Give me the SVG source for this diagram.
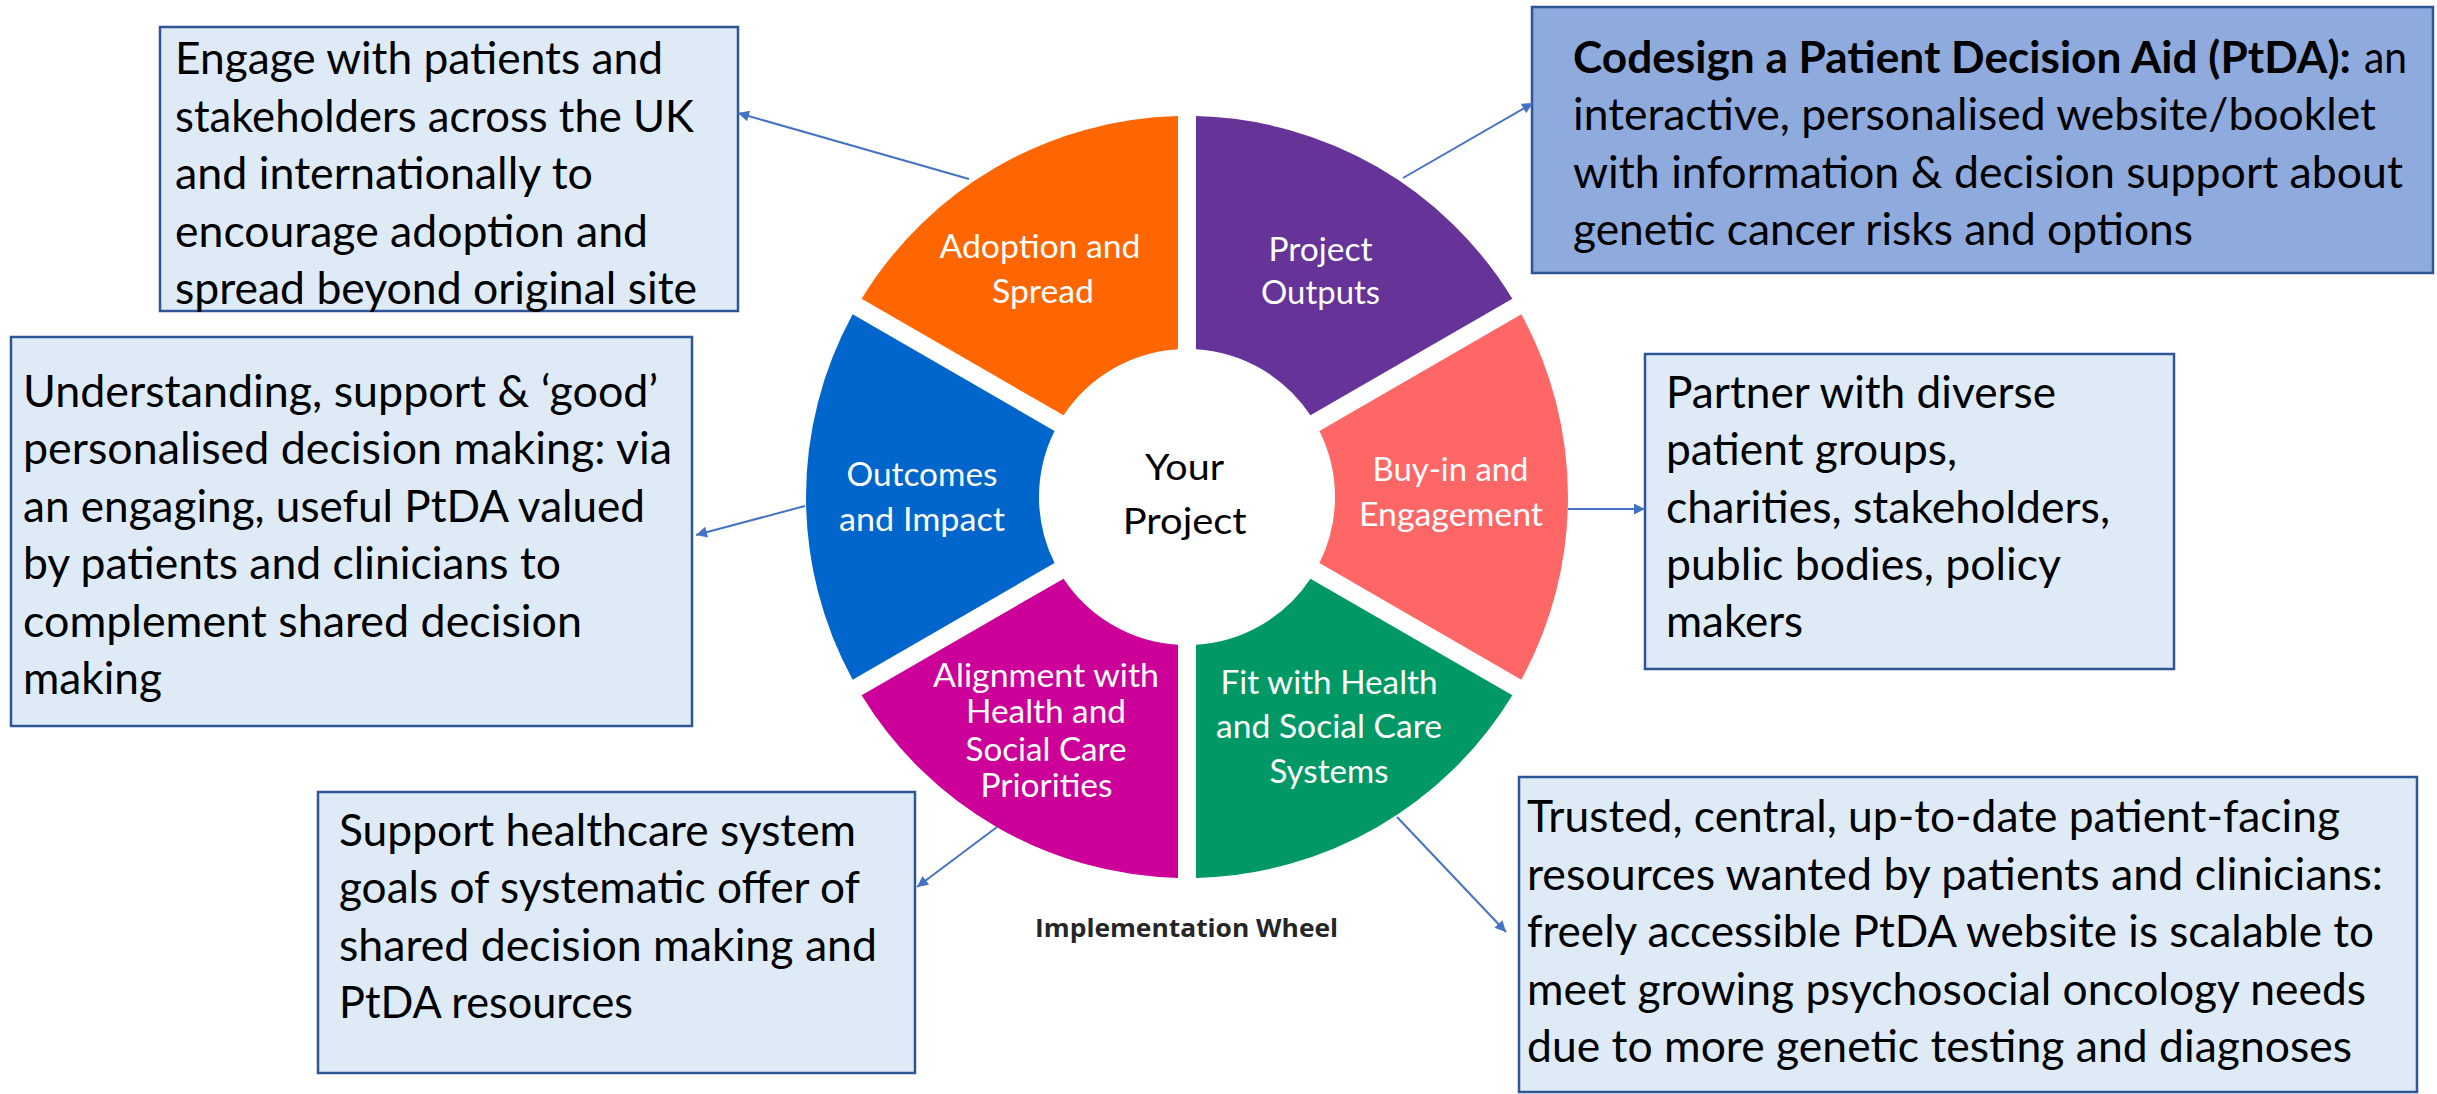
<svg xmlns="http://www.w3.org/2000/svg" width="2437" height="1094" viewBox="0 0 2437 1094">
<style>
.box{fill:#DEEBF7;stroke:#2F5597;stroke-width:2.5}
.boxd{fill:#8FAADC;stroke:#2F5597;stroke-width:2.5}
.bt{font-family:Lato,"Liberation Sans",sans-serif;font-size:44px;fill:#000}
.bb{font-family:Lato,"Liberation Sans",sans-serif;font-size:44px;font-weight:700;fill:#000}
.wl{font-family:Lato,"Liberation Sans",sans-serif;font-size:33px;fill:#fff;text-anchor:middle}
.ct{font-family:Lato,"Liberation Sans",sans-serif;font-size:37px;fill:#000;text-anchor:middle}
.cap{font-family:"Open Sans","Liberation Sans",sans-serif;font-size:25px;font-weight:700;fill:#262626;text-anchor:middle}
.conn{stroke:#4472C4;stroke-width:2;fill:none;marker-end:url(#arr)}
</style>
<defs>
<marker id="arr" viewBox="0 0 10 10" refX="10" refY="5" markerUnits="userSpaceOnUse" markerWidth="15" markerHeight="11" orient="auto">
<path d="M0,0 L10,5 L0,10 z" fill="#4472C4"/>
</marker>
</defs>
<rect width="2437" height="1094" fill="#fff"/>

<g id="wheel">
<g id="seg-adoption">
<path d="M861.65,298.76 A381,381 0 0 1 1178,116.11 L1178,349.27 A148,148 0 0 0 1063.57,415.34 Z" fill="#FF6600"/>
<text class="wl" x="1040" y="258" textLength="201" lengthAdjust="spacingAndGlyphs">Adoption and</text>
<text class="wl" x="1043" y="303" textLength="102" lengthAdjust="spacingAndGlyphs">Spread</text>
</g>
<g id="seg-outputs">
<path d="M1196,116.11 A381,381 0 0 1 1512.35,298.76 L1310.43,415.34 A148,148 0 0 0 1196,349.27 Z" fill="#663399"/>
<text class="wl" x="1320.5" y="261" textLength="104" lengthAdjust="spacingAndGlyphs">Project</text>
<text class="wl" x="1320.5" y="304" textLength="119" lengthAdjust="spacingAndGlyphs">Outputs</text>
</g>
<g id="seg-buyin">
<path d="M1521.35,314.35 A381,381 0 0 1 1521.35,679.65 L1319.43,563.07 A148,148 0 0 0 1319.43,430.93 Z" fill="#FF6666"/>
<text class="wl" x="1450.5" y="481" textLength="156" lengthAdjust="spacingAndGlyphs">Buy-in and</text>
<text class="wl" x="1451" y="526" textLength="184" lengthAdjust="spacingAndGlyphs">Engagement</text>
</g>
<g id="seg-fit">
<path d="M1512.35,695.24 A381,381 0 0 1 1196,877.89 L1196,644.73 A148,148 0 0 0 1310.43,578.66 Z" fill="#009966"/>
<text class="wl" x="1329" y="694" textLength="217" lengthAdjust="spacingAndGlyphs">Fit with Health</text>
<text class="wl" x="1329" y="738" textLength="226" lengthAdjust="spacingAndGlyphs">and Social Care</text>
<text class="wl" x="1329" y="783" textLength="119" lengthAdjust="spacingAndGlyphs">Systems</text>
</g>
<g id="seg-alignment">
<path d="M1178,877.89 A381,381 0 0 1 861.65,695.24 L1063.57,578.66 A148,148 0 0 0 1178,644.73 Z" fill="#CC0099"/>
<text class="wl" x="1046" y="687" textLength="226" lengthAdjust="spacingAndGlyphs">Alignment with</text>
<text class="wl" x="1046" y="723" textLength="160" lengthAdjust="spacingAndGlyphs">Health and</text>
<text class="wl" x="1046" y="761" textLength="161" lengthAdjust="spacingAndGlyphs">Social Care</text>
<text class="wl" x="1046.5" y="797" textLength="132" lengthAdjust="spacingAndGlyphs">Priorities</text>
</g>
<g id="seg-outcomes">
<path d="M852.65,679.65 A381,381 0 0 1 852.65,314.35 L1054.57,430.93 A148,148 0 0 0 1054.57,563.07 Z" fill="#0066CC"/>
<text class="wl" x="922" y="486" textLength="151" lengthAdjust="spacingAndGlyphs">Outcomes</text>
<text class="wl" x="922" y="531" textLength="166" lengthAdjust="spacingAndGlyphs">and Impact</text>
</g>
<g id="center">
<text class="ct" x="1184.5" y="480" textLength="79" lengthAdjust="spacingAndGlyphs">Your</text>
<text class="ct" x="1184.7" y="534" textLength="124" lengthAdjust="spacingAndGlyphs">Project</text>
</g>
<g id="caption">
<text class="cap" x="1186.6" y="937" textLength="303" lengthAdjust="spacingAndGlyphs">Implementation Wheel</text>
</g>
</g>

<g id="box-spread">
<rect class="box" x="160" y="27" width="578" height="284"/>
<text class="bt" x="175" y="74" textLength="488" lengthAdjust="spacingAndGlyphs">Engage with patients and</text>
<text class="bt" x="175" y="132" textLength="519" lengthAdjust="spacingAndGlyphs">stakeholders across the UK</text>
<text class="bt" x="175" y="189" textLength="418" lengthAdjust="spacingAndGlyphs">and internationally to</text>
<text class="bt" x="175" y="247" textLength="473" lengthAdjust="spacingAndGlyphs">encourage adoption and</text>
<text class="bt" x="175" y="304" textLength="522" lengthAdjust="spacingAndGlyphs">spread beyond original site</text>
</g>

<g id="box-outputs">
<rect class="boxd" x="1532" y="7" width="901" height="266"/>
<text class="bb" x="1573" y="73" textLength="778" lengthAdjust="spacingAndGlyphs">Codesign a Patient Decision Aid (PtDA):</text>
<text class="bt" x="2364" y="73" textLength="43" lengthAdjust="spacingAndGlyphs">an</text>
<text class="bt" x="1573" y="130" textLength="803" lengthAdjust="spacingAndGlyphs">interactive, personalised website/booklet</text>
<text class="bt" x="1573" y="188" textLength="830" lengthAdjust="spacingAndGlyphs">with information &amp; decision support about</text>
<text class="bt" x="1573" y="245" textLength="620" lengthAdjust="spacingAndGlyphs">genetic cancer risks and options</text>
</g>

<g id="box-outcomes">
<rect class="box" x="11" y="337" width="681" height="389"/>
<text class="bt" x="23" y="407" textLength="635" lengthAdjust="spacingAndGlyphs">Understanding, support &amp; ‘good’</text>
<text class="bt" x="23" y="464" textLength="649" lengthAdjust="spacingAndGlyphs">personalised decision making: via</text>
<text class="bt" x="23" y="522" textLength="622" lengthAdjust="spacingAndGlyphs">an engaging, useful PtDA valued</text>
<text class="bt" x="23" y="579" textLength="538" lengthAdjust="spacingAndGlyphs">by patients and clinicians to</text>
<text class="bt" x="23" y="637" textLength="559" lengthAdjust="spacingAndGlyphs">complement shared decision</text>
<text class="bt" x="23" y="694" textLength="139" lengthAdjust="spacingAndGlyphs">making</text>
</g>

<g id="box-buyin">
<rect class="box" x="1645" y="354" width="529" height="315"/>
<text class="bt" x="1666" y="408" textLength="390" lengthAdjust="spacingAndGlyphs">Partner with diverse</text>
<text class="bt" x="1666" y="465" textLength="291" lengthAdjust="spacingAndGlyphs">patient groups,</text>
<text class="bt" x="1666" y="523" textLength="444" lengthAdjust="spacingAndGlyphs">charities, stakeholders,</text>
<text class="bt" x="1666" y="580" textLength="395" lengthAdjust="spacingAndGlyphs">public bodies, policy</text>
<text class="bt" x="1666" y="637" textLength="137" lengthAdjust="spacingAndGlyphs">makers</text>
</g>

<g id="box-alignment">
<rect class="box" x="318" y="792" width="597" height="281"/>
<text class="bt" x="339" y="846" textLength="517" lengthAdjust="spacingAndGlyphs">Support healthcare system</text>
<text class="bt" x="339" y="903" textLength="521" lengthAdjust="spacingAndGlyphs">goals of systematic offer of</text>
<text class="bt" x="339" y="961" textLength="538" lengthAdjust="spacingAndGlyphs">shared decision making and</text>
<text class="bt" x="339" y="1018" textLength="294" lengthAdjust="spacingAndGlyphs">PtDA resources</text>
</g>

<g id="box-fit">
<rect class="box" x="1519" y="777" width="898" height="315"/>
<text class="bt" x="1527" y="832" textLength="813" lengthAdjust="spacingAndGlyphs">Trusted, central, up-to-date patient-facing</text>
<text class="bt" x="1527" y="889.5" textLength="856" lengthAdjust="spacingAndGlyphs">resources wanted by patients and clinicians:</text>
<text class="bt" x="1527" y="947" textLength="847" lengthAdjust="spacingAndGlyphs">freely accessible PtDA website is scalable to</text>
<text class="bt" x="1527" y="1004.5" textLength="839" lengthAdjust="spacingAndGlyphs">meet growing psychosocial oncology needs</text>
<text class="bt" x="1527" y="1062" textLength="825" lengthAdjust="spacingAndGlyphs">due to more genetic testing and diagnoses</text>
</g>

<g id="connectors">
<line class="conn" x1="969" y1="179" x2="738" y2="113"/>
<line class="conn" x1="1403" y1="178" x2="1533" y2="103"/>
<line class="conn" x1="805" y1="506" x2="696" y2="535"/>
<line class="conn" x1="1568" y1="509" x2="1645" y2="509"/>
<line class="conn" x1="997" y1="827" x2="917" y2="887"/>
<line class="conn" x1="1397" y1="817" x2="1506" y2="932"/>
</g>
</svg>
